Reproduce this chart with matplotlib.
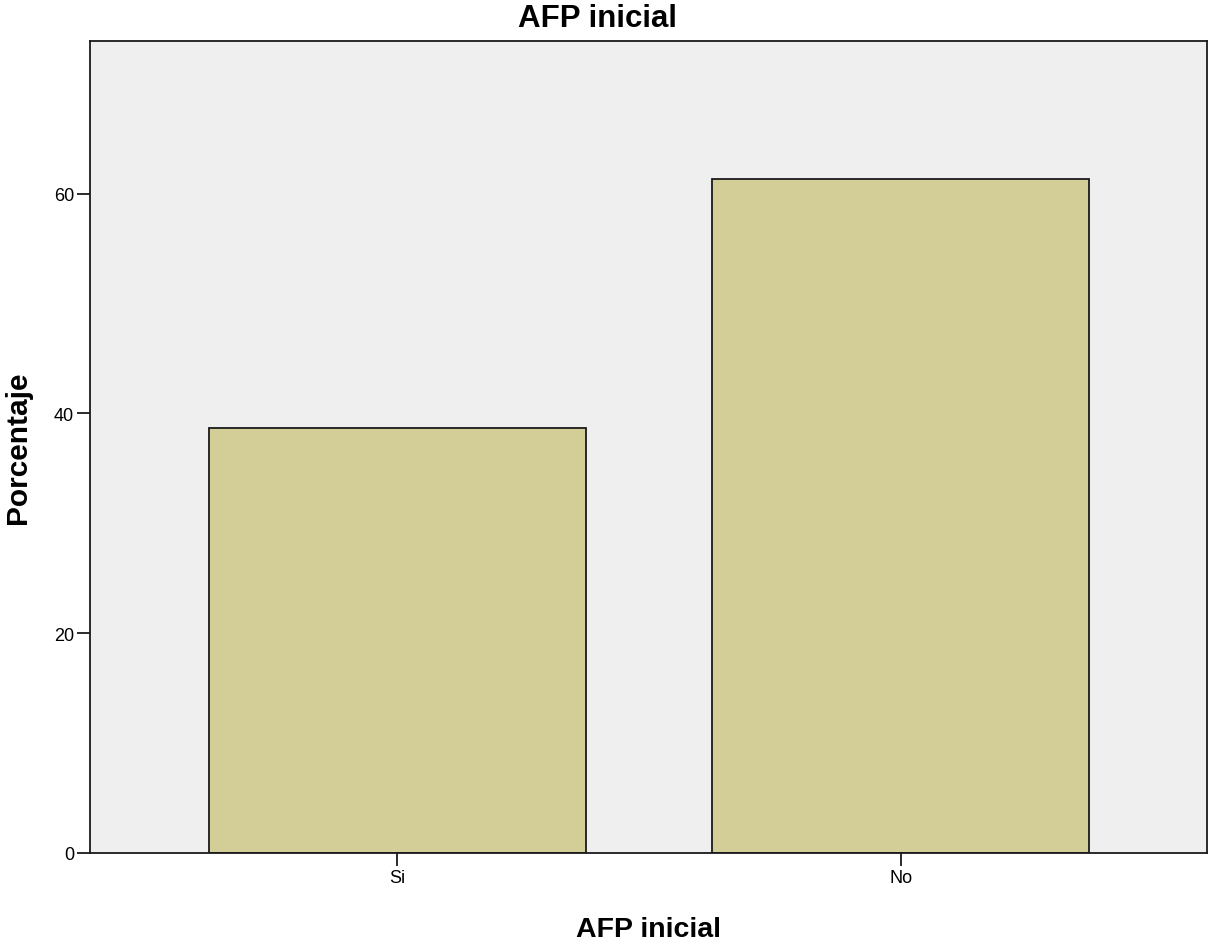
import matplotlib
matplotlib.use("Agg")
import matplotlib.pyplot as plt

plt.rcParams["font.family"] = ["Liberation Sans", "DejaVu Sans"]

categories = ["Si", "No"]
values = [38.7, 61.3]
yticks = [0, 20, 40, 60]

W, H = 1211, 945
fig = plt.figure(figsize=(W/100, H/100), dpi=100)
ax = fig.add_axes([90/W, 1-854/H, (1207-90)/W, (854-42)/H])
ax.set_facecolor("#EFEFEF")
x = list(range(len(categories)))
ax.bar(x, values, width=0.75, color="#D3CE97", edgecolor="#1a1a1a", linewidth=1.3, zorder=2)
ax.set_xlim(-0.611, 1.609)
ax.set_ylim(0, 73.9)
ax.set_xticks(x)
ax.set_xticklabels(categories, fontsize=13)
ax.set_yticks(yticks)
ax.set_yticklabels([str(t) for t in yticks], fontsize=13)
ax.tick_params(direction="out", length=9.5, width=1.3, color="#1a1a1a", pad=2)
for s in ax.spines.values():
    s.set_linewidth(1.3)
    s.set_color("#1a1a1a")

fig.text(597.5/W, 1-27/H, "AFP inicial", fontsize=22.5, fontweight="bold",
         ha="center", va="baseline")
ax.set_xlabel("AFP inicial", fontsize=20.5, fontweight="bold")
ax.xaxis.label.set_va("baseline")
ax.xaxis.set_label_coords(0.5, -(937-854)/812)
ax.set_ylabel("Porcentaje", fontsize=21.5, fontweight="bold")
ax.yaxis.label.set_va("center")
ax.yaxis.set_label_coords((18-90)/1117, (854-448)/812)
fig.savefig("out.png", dpi=100)
